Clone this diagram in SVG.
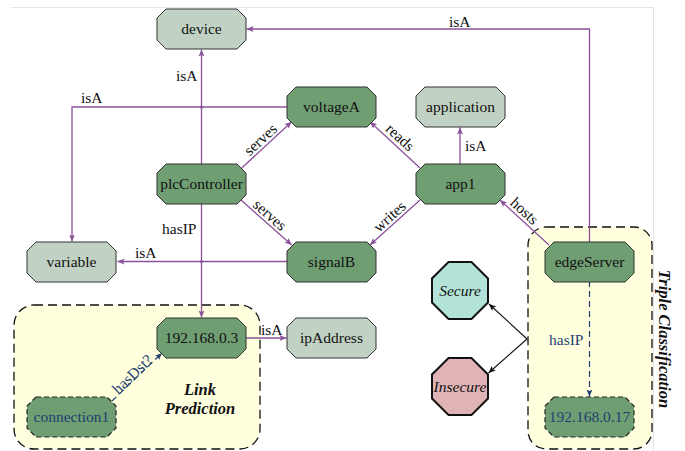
<svg xmlns="http://www.w3.org/2000/svg" width="685" height="451" viewBox="0 0 685 451" font-family="'Liberation Serif', 'DejaVu Serif', serif">
<style>
text{font-family:'Liberation Serif','DejaVu Serif',serif;font-size:15.5px;fill:#111}
.n{text-anchor:middle}
.dk{fill:#6f9e73;stroke:#333;stroke-width:1}
.lt{fill:#c1d1c3;stroke:#333;stroke-width:1}
.dash{fill:#6f9e73;stroke:#222;stroke-width:1.2;stroke-dasharray:5 3}
.blue{fill:#1f3f70}
.e{fill:none;stroke:#8a529b;stroke-width:1.3;marker-end:url(#ap)}
.eb{fill:none;stroke:#1f3f70;stroke-width:1.2;stroke-dasharray:6 4;marker-end:url(#ab)}
.ek{fill:none;stroke:#111;stroke-width:1.1;marker-end:url(#ak)}
.grp{fill:#ffffde;stroke:#111;stroke-width:1.3;stroke-dasharray:9 5}
.bi{font-weight:bold;font-style:italic;font-size:16.5px}
</style>
<defs>
<path id="oct" d="M9,0 H80 L89,9 V31 L80,40 H9 L0,31 V9 Z"/>
<marker id="ap" markerUnits="userSpaceOnUse" markerWidth="8" markerHeight="8" refX="7" refY="3.5" orient="auto"><path d="M0,0.5 L7,3.5 L0,6.5 L1.5,3.5 Z" fill="#8a529b"/></marker>
<marker id="ab" markerUnits="userSpaceOnUse" markerWidth="8" markerHeight="8" refX="7" refY="3.5" orient="auto"><path d="M0,0.5 L7,3.5 L0,6.5 L1.5,3.5 Z" fill="#1f3f70"/></marker>
<marker id="ak" markerUnits="userSpaceOnUse" markerWidth="8" markerHeight="8" refX="7" refY="3.5" orient="auto"><path d="M0,0.5 L7,3.5 L0,6.5 L1.5,3.5 Z" fill="#111"/></marker>
</defs>
<rect width="685" height="451" fill="#fff"/>
<path d="M11,7.5 H653.5 V451" fill="none" stroke="#e4e4e4" stroke-width="1"/>

<g id="group-link-prediction">
<rect class="grp" x="14" y="305" width="246" height="144" rx="20"/>
<text class="bi n" x="200" y="395">Link</text>
<text class="bi n" x="200" y="414">Prediction</text>
</g>
<g id="group-triple-classification">
<rect class="grp" x="528" y="227" width="124" height="222" rx="18"/>
<text class="bi n" transform="translate(659,339) rotate(90)">Triple Classification</text>
</g>

<g id="connectors">
<polyline class="e" points="589.5,242 589.5,29 246.5,29"/>
<text x="449" y="26.5">isA</text>
<line class="e" x1="201.5" y1="164" x2="201.5" y2="49.5"/>
<text x="176" y="81">isA</text>
<polyline class="e" points="287,107 72,107 72,241.5"/>
<text x="81" y="103">isA</text>
<circle cx="201.5" cy="107" r="1.5" fill="#8a529b"/>
<line class="e" x1="241.7" y1="168" x2="291.7" y2="121.7"/>
<text class="n" transform="translate(266,145.5) rotate(-42.8)" y="-3">serves</text>
<line class="e" x1="241" y1="200" x2="291.7" y2="245"/>
<text class="n" transform="translate(264.5,221) rotate(41.6)" y="-3">serves</text>
<line class="e" x1="420" y1="168" x2="370" y2="121.7"/>
<text class="n" transform="translate(394,144) rotate(42.8)" y="-4">reads</text>
<line class="e" x1="460" y1="164" x2="460" y2="127.5"/>
<text x="465" y="151">isA</text>
<line class="e" x1="420" y1="200" x2="370" y2="245"/>
<text class="n" transform="translate(395,222.5) rotate(-42)" y="-3">writes</text>
<line class="e" x1="549" y1="245" x2="500" y2="200"/>
<text class="n" transform="translate(519,217) rotate(42.6)" y="-3">hosts</text>
<line class="e" x1="287" y1="261.5" x2="117.5" y2="261.5"/>
<text x="135" y="258">isA</text>
<circle cx="201.5" cy="261.5" r="1.5" fill="#8a529b"/>
<line class="e" x1="201.5" y1="203" x2="201.5" y2="317.5"/>
<text x="162" y="234">hasIP</text>
<line class="e" x1="246" y1="338" x2="286.5" y2="338"/>
<text x="261" y="334.5">isA</text>
<line class="eb" x1="112" y1="401" x2="162" y2="353"/>
<text class="n blue" transform="translate(136,378) rotate(-43.8)" y="0">hasDst?</text>
<line class="eb" x1="589.5" y1="281" x2="589.5" y2="396.5"/>
<text class="blue" x="549" y="345">hasIP</text>
<line class="ek" x1="527" y1="339" x2="489" y2="304"/>
<line class="ek" x1="527" y1="339" x2="488.5" y2="373"/>
</g>

<g id="device"><use href="#oct" class="lt" x="157" y="9"/><text class="n" x="201.5" y="34">device</text></g>
<g id="voltageA"><use href="#oct" class="dk" x="287" y="87"/><text class="n" x="331.5" y="112">voltageA</text></g>
<g id="application"><use href="#oct" class="lt" x="416" y="87"/><text class="n" x="460.5" y="112">application</text></g>
<g id="plcController"><use href="#oct" class="dk" x="157" y="164"/><text class="n" x="201.5" y="189">plcController</text></g>
<g id="app1"><use href="#oct" class="dk" x="416" y="164"/><text class="n" x="460.5" y="189">app1</text></g>
<g id="variable"><use href="#oct" class="lt" x="27" y="242"/><text class="n" x="71.5" y="267">variable</text></g>
<g id="signalB"><use href="#oct" class="dk" x="287" y="242"/><text class="n" x="331.5" y="267">signalB</text></g>
<g id="edgeServer"><use href="#oct" class="dk" x="545" y="242"/><text class="n" x="589.5" y="267">edgeServer</text></g>
<g id="ip3"><use href="#oct" class="dk" x="157" y="318"/><text class="n" x="201.5" y="343">192.168.0.3</text></g>
<g id="ipAddress"><use href="#oct" class="lt" x="287" y="318"/><text class="n" x="331.5" y="343">ipAddress</text></g>
<g id="connection1"><use href="#oct" class="dash" x="27" y="397"/><text class="n blue" x="71.5" y="422">connection1</text></g>
<g id="ip17"><use href="#oct" class="dash" x="545" y="397"/><text class="n blue" x="589.5" y="422">192.168.0.17</text></g>
<g id="secure"><path d="M448.5,262 H471.5 L488,278.5 V302.5 L471.5,319 H448.5 L432,302.5 V278.5 Z" fill="#b3e3d8" stroke="#111" stroke-width="2"/><text class="n" x="460" y="296" font-style="italic">Secure</text></g>
<g id="insecure"><path d="M448.5,358 H471.5 L488,374.5 V398.5 L471.5,415 H448.5 L432,398.5 V374.5 Z" fill="#e0b4b6" stroke="#111" stroke-width="2"/><text class="n" x="460" y="392" font-style="italic">Insecure</text></g>
</svg>
